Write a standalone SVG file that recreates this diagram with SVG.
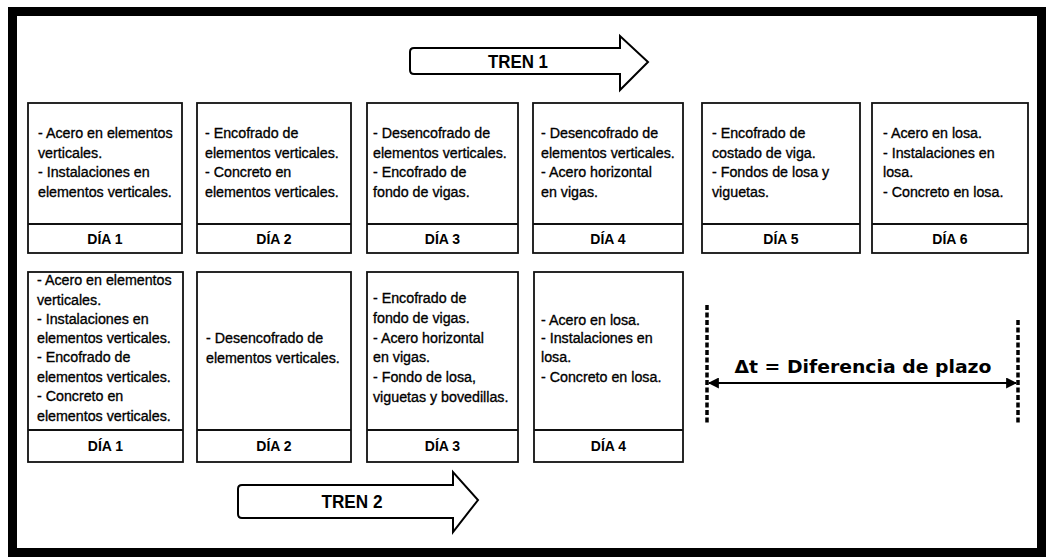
<svg xmlns="http://www.w3.org/2000/svg" width="1046" height="557" viewBox="0 0 1046 557">
  <style>
    .box { fill: #fff; stroke: #111; stroke-width: 1.8; }
    .div { stroke: #111; stroke-width: 1.8; }
    .t { font-family: "Liberation Sans", Arial, sans-serif; font-size: 15.5px; fill: #000; stroke: #000; stroke-width: 0.35; }
    .day { font-family: "Liberation Sans", Arial, sans-serif; font-size: 14px; font-weight: bold; fill: #000; text-anchor: middle; }
    .train { fill: #fff; stroke: #000; stroke-width: 2; stroke-linejoin: miter; }
    .tl { font-family: "Liberation Sans", Arial, sans-serif; font-size: 19px; font-weight: bold; fill: #000; text-anchor: middle; }
    .dash { stroke: #000; stroke-width: 3.5; stroke-dasharray: 5 2.5; fill: none; }
    .dim { stroke: #000; stroke-width: 2.2; fill: none; }
    .dt { font-family: "DejaVu Sans", Verdana, sans-serif; font-size: 17px; font-weight: bold; fill: #000; text-anchor: middle; }
  </style>
  <defs>
    <marker id="ah" viewBox="0 0 10 10" refX="9" refY="5" markerWidth="5" markerHeight="5" orient="auto-start-reverse" markerUnits="strokeWidth">
      <path d="M0,0 L10,5 L0,10 Z" fill="#000"/>
    </marker>
  </defs>

  <rect x="0" y="0" width="1046" height="557" fill="#fff"/>
  <!-- outer frame -->
  <rect x="12.5" y="11.5" width="1029" height="541" fill="none" stroke="#000" stroke-width="9"/>

  <!-- TREN 1 -->
  <g id="tren1">
    <path class="train" d="M414,48 L620,48 L620,36 L648,62 L620,90 L620,74 L414,74 Q410,74 410,70 L410,52 Q410,48 414,48 Z"/>
    <text class="tl" x="518" y="68" textLength="60" lengthAdjust="spacingAndGlyphs">TREN 1</text>
  </g>

  <!-- Row 1: TREN 1 (body text condensed horizontally) -->
  <g id="t1-dia1">
    <rect class="box" x="28" y="103" width="154" height="150"/>
    <line class="div" x1="28" y1="224" x2="182" y2="224"/>
    <g class="t" transform="translate(38 0) scale(0.92 1)">
      <text x="0" y="138">- Acero en elementos</text>
      <text x="0" y="158">verticales.</text>
      <text x="0" y="177">- Instalaciones en</text>
      <text x="0" y="197">elementos verticales.</text>
    </g>
    <text class="day" x="105" y="244">DÍA 1</text>
  </g>
  <g id="t1-dia2">
    <rect class="box" x="197" y="103" width="154" height="150"/>
    <line class="div" x1="197" y1="224" x2="351" y2="224"/>
    <g class="t" transform="translate(205 0) scale(0.92 1)">
      <text x="0" y="138">- Encofrado de</text>
      <text x="0" y="158">elementos verticales.</text>
      <text x="0" y="177">- Concreto en</text>
      <text x="0" y="197">elementos verticales.</text>
    </g>
    <text class="day" x="274" y="244">DÍA 2</text>
  </g>
  <g id="t1-dia3">
    <rect class="box" x="367" y="103" width="151" height="150"/>
    <line class="div" x1="367" y1="224" x2="518" y2="224"/>
    <g class="t" transform="translate(373 0) scale(0.92 1)">
      <text x="0" y="138">- Desencofrado de</text>
      <text x="0" y="158">elementos verticales.</text>
      <text x="0" y="177">- Encofrado de</text>
      <text x="0" y="197">fondo de vigas.</text>
    </g>
    <text class="day" x="442.5" y="244">DÍA 3</text>
  </g>
  <g id="t1-dia4">
    <rect class="box" x="533" y="103" width="150" height="150"/>
    <line class="div" x1="533" y1="224" x2="683" y2="224"/>
    <g class="t" transform="translate(541 0) scale(0.92 1)">
      <text x="0" y="138">- Desencofrado de</text>
      <text x="0" y="158">elementos verticales.</text>
      <text x="0" y="177">- Acero horizontal</text>
      <text x="0" y="197">en vigas.</text>
    </g>
    <text class="day" x="608" y="244">DÍA 4</text>
  </g>
  <g id="t1-dia5">
    <rect class="box" x="702" y="103" width="158" height="150"/>
    <line class="div" x1="702" y1="224" x2="860" y2="224"/>
    <g class="t" transform="translate(712 0) scale(0.92 1)">
      <text x="0" y="138">- Encofrado de</text>
      <text x="0" y="158">costado de viga.</text>
      <text x="0" y="177">- Fondos de losa y</text>
      <text x="0" y="197">viguetas.</text>
    </g>
    <text class="day" x="781" y="244">DÍA 5</text>
  </g>
  <g id="t1-dia6">
    <rect class="box" x="872" y="103" width="156" height="150"/>
    <line class="div" x1="872" y1="224" x2="1028" y2="224"/>
    <g class="t" transform="translate(883 0) scale(0.92 1)">
      <text x="0" y="138">- Acero en losa.</text>
      <text x="0" y="158">- Instalaciones en</text>
      <text x="0" y="177">losa.</text>
      <text x="0" y="197">- Concreto en losa.</text>
    </g>
    <text class="day" x="950" y="244">DÍA 6</text>
  </g>

  <!-- Row 2: TREN 2 -->
  <g id="t2-dia1">
    <rect class="box" x="28" y="272" width="155" height="190"/>
    <line class="div" x1="28" y1="430" x2="183" y2="430"/>
    <g class="t" transform="translate(37 0) scale(0.92 1)">
      <text x="0" y="285">- Acero en elementos</text>
      <text x="0" y="305">verticales.</text>
      <text x="0" y="324">- Instalaciones en</text>
      <text x="0" y="343">elementos verticales.</text>
      <text x="0" y="362">- Encofrado de</text>
      <text x="0" y="382">elementos verticales.</text>
      <text x="0" y="401">- Concreto en</text>
      <text x="0" y="421">elementos verticales.</text>
    </g>
    <text class="day" x="105.5" y="451">DÍA 1</text>
  </g>
  <g id="t2-dia2">
    <rect class="box" x="197" y="272" width="154" height="190"/>
    <line class="div" x1="197" y1="430" x2="351" y2="430"/>
    <g class="t" transform="translate(206 0) scale(0.92 1)">
      <text x="0" y="343">- Desencofrado de</text>
      <text x="0" y="363">elementos verticales.</text>
    </g>
    <text class="day" x="274" y="451">DÍA 2</text>
  </g>
  <g id="t2-dia3">
    <rect class="box" x="367" y="272" width="151" height="190"/>
    <line class="div" x1="367" y1="430" x2="518" y2="430"/>
    <g class="t" transform="translate(373 0) scale(0.92 1)">
      <text x="0" y="303">- Encofrado de</text>
      <text x="0" y="323">fondo de vigas.</text>
      <text x="0" y="343">- Acero horizontal</text>
      <text x="0" y="362">en vigas.</text>
      <text x="0" y="382">- Fondo de losa,</text>
      <text x="0" y="402">viguetas y bovedillas.</text>
    </g>
    <text class="day" x="442.5" y="451">DÍA 3</text>
  </g>
  <g id="t2-dia4">
    <rect class="box" x="534" y="272" width="149" height="190"/>
    <line class="div" x1="534" y1="430" x2="683" y2="430"/>
    <g class="t" transform="translate(541 0) scale(0.92 1)">
      <text x="0" y="325">- Acero en losa.</text>
      <text x="0" y="343">- Instalaciones en</text>
      <text x="0" y="362">losa.</text>
      <text x="0" y="382">- Concreto en losa.</text>
    </g>
    <text class="day" x="608.5" y="451">DÍA 4</text>
  </g>

  <!-- TREN 2 -->
  <g id="tren2">
    <path class="train" d="M242,485 L453,485 L453,472 L478,500 L453,532 L453,518 L242,518 Q238,518 238,514 L238,489 Q238,485 242,485 Z"/>
    <text class="tl" x="352" y="508" textLength="61" lengthAdjust="spacingAndGlyphs">TREN 2</text>
  </g>

  <!-- time-difference dimension -->
  <g id="connectors">
    <line class="dash" x1="707" y1="305" x2="707" y2="424"/>
    <line class="dash" x1="1018" y1="320" x2="1018" y2="424"/>
    <line class="dim" x1="709" y1="383" x2="1016" y2="383" marker-start="url(#ah)" marker-end="url(#ah)"/>
  </g>
  <g id="delta-label">
    <text class="dt" x="863" y="373" textLength="257" lengthAdjust="spacingAndGlyphs">Δt = Diferencia de plazo</text>
  </g>
</svg>
